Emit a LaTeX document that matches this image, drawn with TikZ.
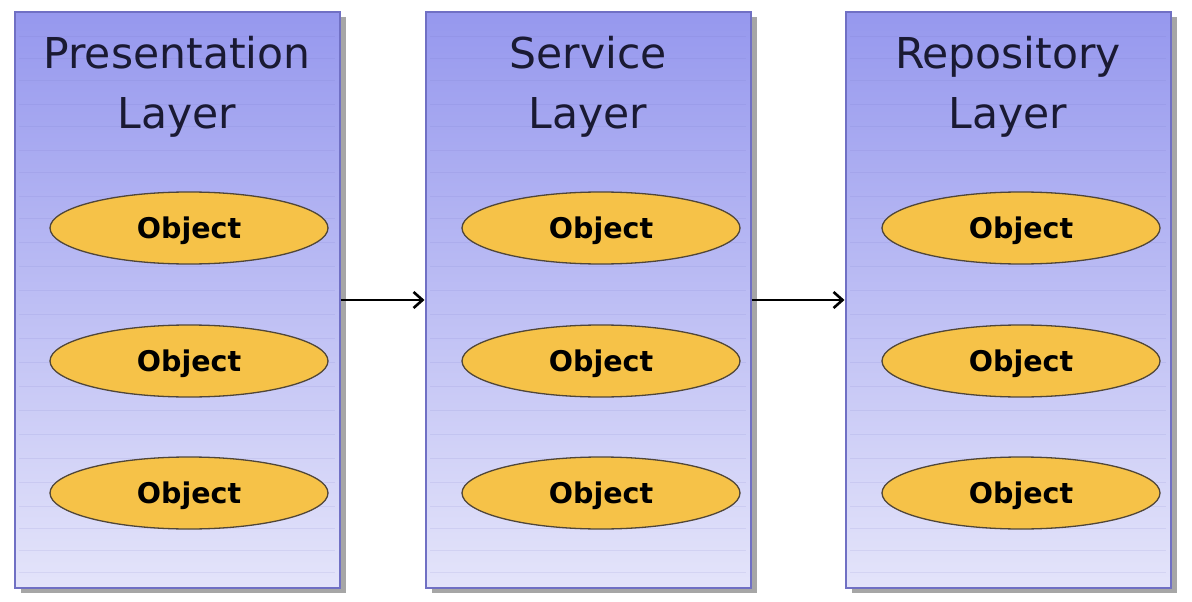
\documentclass[tikz,border=0pt]{standalone}
\usepackage{fontspec}
\setmainfont{DejaVu Sans}
\usetikzlibrary{%
  shapes.geometric,% ellipse
  arrows.meta,%
  shadows,%
  positioning%
}
\definecolor{layertop}{RGB}{150,152,238}
\definecolor{layerbottom}{RGB}{228,228,250}
\definecolor{layerline}{RGB}{112,112,196}
\definecolor{objfill}{RGB}{246,194,72}
\definecolor{objline}{RGB}{80,70,56}
\definecolor{titletext}{RGB}{26,26,51}

\begin{document}
\begin{tikzpicture}
  [
  x=1pt, y=-1pt, line width=1pt,
  layernode/.style={rectangle, draw=layerline, line width=2pt,
    top color=layertop, bottom color=layerbottom,
    minimum width=325pt, minimum height=576pt, inner sep=0pt,
    drop shadow={shadow xshift=6pt, shadow yshift=-5pt, fill=black!35, opacity=1}},
  stripe/.style={draw=layerline, line width=0.6pt, opacity=0.12},
  objnode/.style={ellipse, draw=objline, fill=objfill, line width=1.3pt,
    minimum width=278pt, minimum height=72pt, inner sep=0pt, text depth=0pt,
    font=\fontsize{28.5}{32}\selectfont\bfseries},
  titlenode/.style={align=center, anchor=north, inner sep=0pt, text=titletext,
    font=\fontsize{42.5}{60}\selectfont},
  arr/.style={-{Straight Barb[length=9pt,width=16pt]}, line width=2.6pt},
  ]

  \useasboundingbox (0,0) rectangle (1192,602);

  \node[layernode] (pres) at (177,300) {};
  \node[layernode] (serv) at (588,300) {};
  \node[layernode] (repo) at (1008,300) {};

  % faint ruling inside the layers
  \foreach \cx in {177,588,1008} {
    \foreach \y in {36,58,80,104,126,150,172,196,218,242,266,290,314,338,362,386,410,434,458,482,506,528,550,572} {
      \draw[stripe] (\cx-158,\y) -- (\cx+158,\y);
    }
  }

  \node[titlenode] (prestitle) at (177,36) {Presentation\\Layer};
  \node[titlenode] (servtitle) at (588,36) {Service\\Layer};
  \node[titlenode] (repotitle) at (1008,36) {Repository\\Layer};

  \foreach \n/\cx in {pres/189,serv/601,repo/1021} {
    \foreach \y [count=\i] in {228,361,493} {
      \node[objnode] (\n obj\i) at (\cx,\y) {Object};
    }
  }

  \draw[arr] (pres) -- (serv);
  \draw[arr] (serv) -- (repo);
\end{tikzpicture}
\end{document}
